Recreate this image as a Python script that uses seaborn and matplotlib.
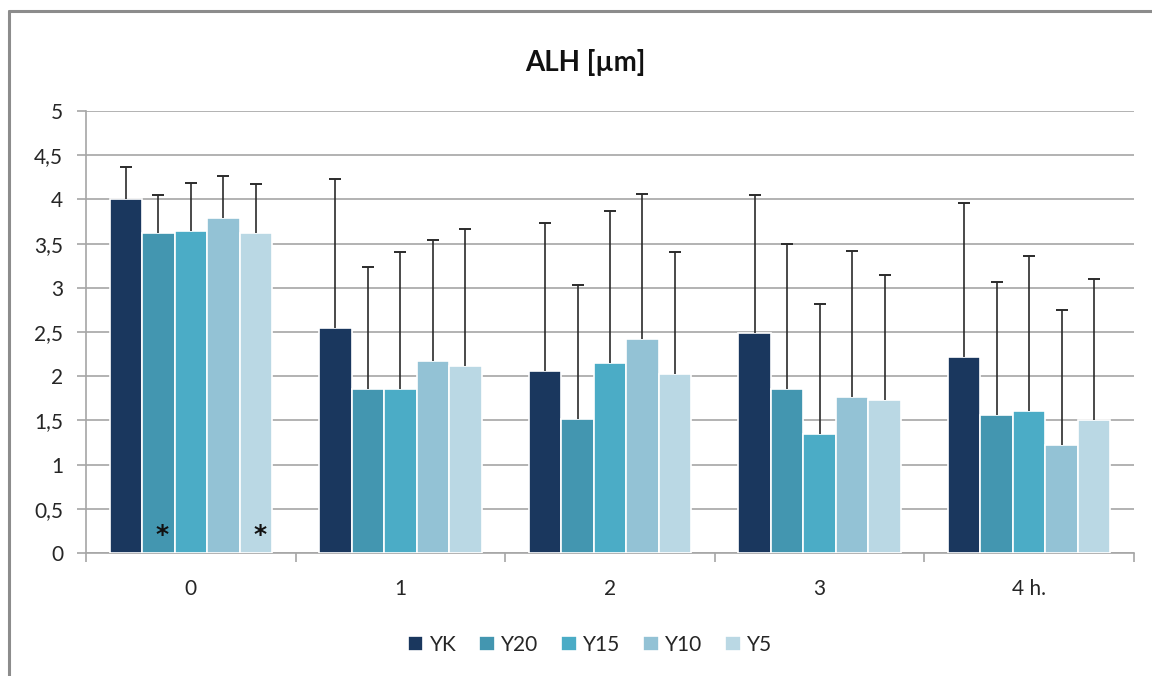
import numpy as np
import pandas as pd
import matplotlib
matplotlib.use("Agg")
import matplotlib.pyplot as plt
from matplotlib.lines import Line2D
from matplotlib.ticker import FixedLocator, FuncFormatter
import seaborn as sns

# Time points (hours) and treatment groups
times = ["0", "1", "2", "3", "4 h."]
groups = ["YK", "Y20", "Y15", "Y10", "Y5"]

# Mean ALH per group at each time point
yk_mean = [4.00, 2.54, 2.06, 2.49, 2.22]
y20_mean = [3.62, 1.86, 1.52, 1.85, 1.56]
y15_mean = [3.64, 1.85, 2.15, 1.35, 1.61]
y10_mean = [3.79, 2.17, 2.42, 1.77, 1.22]
y5_mean = [3.62, 2.11, 2.03, 1.73, 1.51]

# Standard deviations (upper error bars)
yk_sd = [0.37, 1.69, 1.67, 1.56, 1.74]
y20_sd = [0.43, 1.38, 1.51, 1.64, 1.50]
y15_sd = [0.55, 1.55, 1.72, 1.47, 1.75]
y10_sd = [0.48, 1.37, 1.64, 1.65, 1.53]
y5_sd = [0.55, 1.56, 1.37, 1.42, 1.59]

# Significance marks: (time, group)
significant = [("0", "Y20"), ("0", "Y5")]

colors = ["#1a375e", "#4396b0", "#4bacc6", "#93c2d5", "#bad8e4"]

means = [yk_mean, y20_mean, y15_mean, y10_mean, y5_mean]
sds = [yk_sd, y20_sd, y15_sd, y10_sd, y5_sd]

df = pd.DataFrame({
    "time": np.tile(times, len(groups)),
    "group": np.repeat(groups, len(times)),
    "ALH": np.concatenate(means),
})

sns.set_theme(style="white")
plt.rcParams["font.family"] = ["Lato", "DejaVu Sans"]
text_color = "#262626"
grid_color = "#a6a6a6"

fig = plt.figure(figsize=(11.52, 6.76), dpi=100)
ax = fig.add_axes([86 / 1152, 1 - 553 / 676, (1134 - 86) / 1152, (553 - 111) / 676])

sns.barplot(data=df, x="time", y="ALH", hue="group", order=times,
            hue_order=groups, palette=colors, width=0.775,
            edgecolor="white", linewidth=1.2, errorbar=None, ax=ax,
            saturation=1, zorder=3)

# Upper-only error bars positioned on each drawn bar
for container, sd in zip(ax.containers, sds):
    xs = [b.get_x() + b.get_width() / 2 for b in container]
    hs = [b.get_height() for b in container]
    eb = ax.errorbar(xs, hs, yerr=[np.zeros(len(sd)), sd], fmt="none",
                     ecolor="#2b2b2b", elinewidth=1.2, capsize=4,
                     capthick=1.4, zorder=4)
    # hide the cap sitting on the bar top
    eb[1][0].set_visible(False)

# Asterisks inside the significant bars
for t, g in significant:
    b = ax.containers[groups.index(g)][times.index(t)]
    ax.text(b.get_x() + b.get_width() / 2 + 0.02, 0.12, "*", ha="center",
            va="baseline", fontsize=18, fontweight="bold", color="#111111",
            family="DejaVu Sans", zorder=5)

ax.set_ylim(0, 5)
ax.set_xlim(-0.5, len(times) - 0.5)
ax.yaxis.set_major_locator(FixedLocator(np.arange(0, 5.01, 0.5)))
ax.yaxis.set_major_formatter(FuncFormatter(
    lambda v, p: ("%g" % v).replace(".", ",")))
ax.grid(axis="y", color=grid_color, linewidth=1.2, zorder=0)
ax.set_axisbelow(True)

# Category boundaries as major ticks, labels on minor ticks
ax.set_xticks(np.arange(-0.5, len(times), 1.0))
ax.set_xticklabels([])
ax.set_xticks(range(len(times)), minor=True)
ax.set_xticklabels(times, minor=True)
ax.tick_params(axis="x", which="major", length=6.5, width=1.2,
               color=grid_color, direction="out", bottom=True)
ax.tick_params(axis="x", which="minor", length=0, pad=19, labelsize=15,
               labelcolor=text_color)
ax.tick_params(axis="y", length=6.5, width=1.2, color=grid_color,
               direction="out", left=True, pad=10, labelsize=15,
               labelcolor=text_color)

for side in ["top", "right"]:
    ax.spines[side].set_visible(False)
for side in ["left", "bottom"]:
    ax.spines[side].set_color(grid_color)
    ax.spines[side].set_linewidth(1.2)

ax.set_xlabel("")
ax.set_ylabel("")

fig.text(585 / 1152, 1 - 62 / 676, "ALH [µm]", ha="center", va="center",
         fontsize=20, fontweight="bold", color="#111111")

sns.move_legend(ax, "center", bbox_to_anchor=(590 / 1152, 1 - 645 / 676),
                bbox_transform=fig.transFigure, ncol=5, frameon=False,
                title=None, fontsize=15, handlelength=0.75, handleheight=0.75,
                handletextpad=0.3, columnspacing=1.1, labelcolor=text_color)

# Chart frame
frame_kw = dict(color="#8c8c8c", linewidth=2.2, transform=fig.transFigure)
fig.add_artist(Line2D([9 / 1152, 1.0], [1 - 11 / 676, 1 - 11 / 676], **frame_kw))
fig.add_artist(Line2D([9 / 1152, 9 / 1152], [1 - 11 / 676, 0.0], **frame_kw))

fig.savefig("out.png", dpi=100, facecolor="white")
